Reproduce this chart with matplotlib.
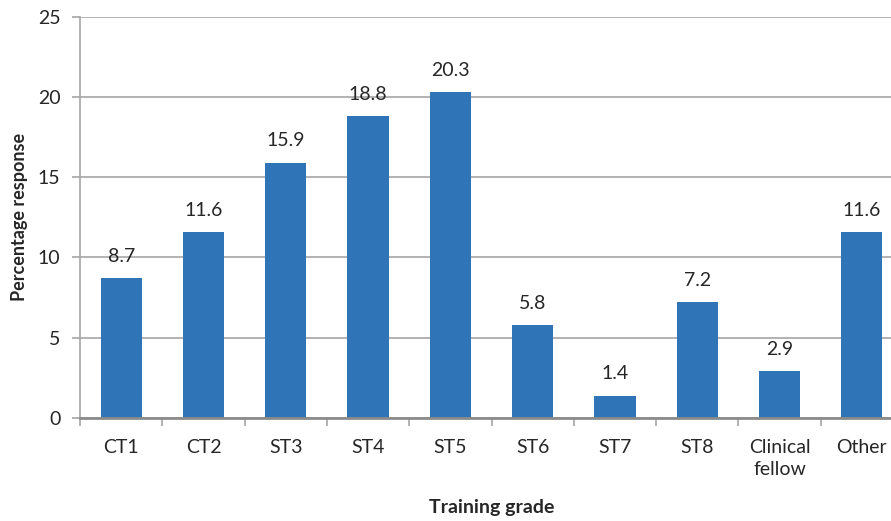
import matplotlib
matplotlib.use("Agg")
import matplotlib.pyplot as plt
import numpy as np

categories = ["CT1", "CT2", "ST3", "ST4", "ST5", "ST6", "ST7", "ST8", "Clinical\nfellow", "Other"]
values = [8.7, 11.6, 15.9, 18.8, 20.3, 5.8, 1.4, 7.2, 2.9, 11.6]
yticks = [0, 5, 10, 15, 20, 25]

plt.rcParams['font.family'] = ['Lato', 'DejaVu Sans']
txt = '#262626'
grid = '#A6A6A6'
fs = 14

fig = plt.figure(figsize=(8.91, 5.21), dpi=100)
ax = fig.add_axes([80/891, 103/521, 823/891, 401.5/521])
x = np.arange(len(categories))
ax.bar(x, values, width=0.5, color='#2E74B7', zorder=3)
for xi, v in zip(x, values):
    ax.annotate(f"{v:.1f}", (xi, v), xytext=(0, 9.5), textcoords='offset points',
                ha='center', va='bottom', fontsize=fs, color=txt)
ax.set_xlim(-0.5, len(categories) - 0.5)
ax.set_ylim(0, 25)
ax.set_yticks(yticks)
ax.set_yticklabels([str(t) for t in yticks], fontsize=fs, color=txt)
ax.set_xticks(x)
ax.set_xticklabels(categories, fontsize=fs, color=txt, linespacing=1.35)
ax.set_xticks(np.arange(-0.5, len(categories)), minor=True)
ax.tick_params(axis='x', which='major', length=0, pad=15)
ax.tick_params(axis='x', which='minor', length=6, color=grid, width=1.2, direction='out')
ax.tick_params(axis='y', length=6, color=grid, width=1.2, pad=8)
ax.yaxis.grid(True, color=grid, linewidth=1.2, zorder=0)
for s in ['top', 'right']:
    ax.spines[s].set_visible(False)
ax.spines['left'].set_color(grid)
ax.spines['left'].set_linewidth(1.2)
ax.spines['bottom'].set_color('#8C8C8C')
ax.spines['bottom'].set_linewidth(2)
ax.spines['bottom'].set_zorder(4)
ax.set_ylabel("Percentage response", fontsize=13, fontweight='bold', color=txt)
ax.set_xlabel("Training grade", fontsize=fs, fontweight='bold', color=txt, labelpad=16)
ax.yaxis.set_label_coords(-52/823, 0.5)
ax.xaxis.set_label_coords(0.5, -(507-418)/401.5)
ax.xaxis.label.set_va('center')
fig.savefig("out.png", dpi=100)
